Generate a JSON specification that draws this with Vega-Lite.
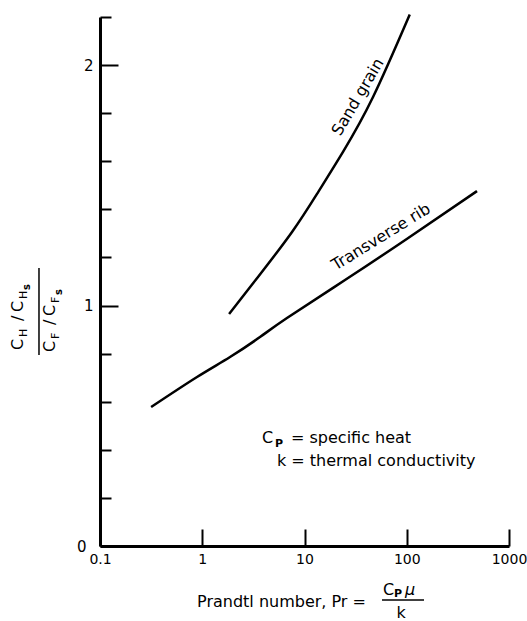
{
  "$schema": "https://vega.github.io/schema/vega-lite/v6.json",
  "autosize": "none",
  "padding": {"left": 100, "top": 17, "right": 18, "bottom": 75},
  "width": 409,
  "height": 529,
  "background": "white",
  "config": {
    "font": "DejaVu Sans",
    "view": {"stroke": null},
    "text": {"color": "black", "fontSize": 16}
  },
  "datasets": {
    "curves": [
      {"series": "Sand grain", "pr": 1.83, "ratio": 0.965},
      {"series": "Sand grain", "pr": 3.51, "ratio": 1.119},
      {"series": "Sand grain", "pr": 7.55, "ratio": 1.306},
      {"series": "Sand grain", "pr": 13.6, "ratio": 1.472},
      {"series": "Sand grain", "pr": 23.8, "ratio": 1.639},
      {"series": "Sand grain", "pr": 46.8, "ratio": 1.867},
      {"series": "Sand grain", "pr": 107, "ratio": 2.21},
      {"series": "Transverse rib", "pr": 0.316, "ratio": 0.578},
      {"series": "Transverse rib", "pr": 0.889, "ratio": 0.703},
      {"series": "Transverse rib", "pr": 1.87, "ratio": 0.786},
      {"series": "Transverse rib", "pr": 3.67, "ratio": 0.869},
      {"series": "Transverse rib", "pr": 6.74, "ratio": 0.948},
      {"series": "Transverse rib", "pr": 24.9, "ratio": 1.106},
      {"series": "Transverse rib", "pr": 100, "ratio": 1.277},
      {"series": "Transverse rib", "pr": 486, "ratio": 1.476}
    ]
  },
  "layer": [
    {
      "data": {"name": "curves"},
      "mark": {"type": "line", "color": "black", "strokeWidth": 2.5, "interpolate": "natural"},
      "encoding": {
        "x": {
          "field": "pr", "type": "quantitative",
          "scale": {"type": "log", "domain": [0.1, 1000]},
          "axis": {
            "values": [0.1, 1, 10, 100, 1000], "format": "~g", "title": null, "grid": false,
            "tickSize": -17, "tickWidth": 2, "tickColor": "black",
            "domainWidth": 3, "domainColor": "black",
            "labelFontSize": 14, "labelColor": "black", "labelFlush": false, "labelPadding": 23
          }
        },
        "y": {
          "field": "ratio", "type": "quantitative",
          "scale": {"domain": [0, 2.2], "nice": false},
          "axis": {
            "values": [0, 0.2, 0.4, 0.6, 0.8, 1, 1.2, 1.4, 1.6, 1.8, 2, 2.2],
            "format": "~g",
            "labelExpr": "(datum.value === 0 || datum.value === 1 || datum.value === 2) ? datum.label : ''",
            "title": null, "grid": false,
            "tickSize": {"condition": {"test": "datum.value === 1 || datum.value === 2", "value": -18}, "value": -11},
            "tickWidth": 2, "tickColor": "black",
            "domainWidth": 3, "domainColor": "black",
            "labelFontSize": 15, "labelColor": "black", "labelPadding": 25
          }
        },
        "detail": {"field": "series"}
      }
    },
    {
      "data": {"values": [{"t": "Sand grain"}]},
      "mark": {"type": "text", "angle": 300.5, "align": "center", "baseline": "middle"},
      "encoding": {"text": {"field": "t"}, "x": {"datum": 33.3, "type": "quantitative"}, "y": {"datum": 1.867, "type": "quantitative"}}
    },
    {
      "data": {"values": [{"t": "Transverse rib"}]},
      "mark": {"type": "text", "angle": 328.3, "align": "center", "baseline": "middle"},
      "encoding": {"text": {"field": "t"}, "x": {"datum": 56, "type": "quantitative"}, "y": {"datum": 1.285, "type": "quantitative"}}
    },
    {
      "data": {"values": [{"t": "C"}]},
      "mark": {"type": "text", "align": "left", "baseline": "alphabetic"},
      "encoding": {"text": {"field": "t"}, "x": {"datum": 3.84, "type": "quantitative"}, "y": {"datum": 0.428, "type": "quantitative"}}
    },
    {
      "data": {"values": [{"t": "P"}]},
      "mark": {"type": "text", "align": "left", "baseline": "alphabetic", "fontSize": 11, "fontWeight": "bold", "dy": 4},
      "encoding": {"text": {"field": "t"}, "x": {"datum": 5.15, "type": "quantitative"}, "y": {"datum": 0.428, "type": "quantitative"}}
    },
    {
      "data": {"values": [{"t": "= specific heat"}]},
      "mark": {"type": "text", "align": "left", "baseline": "alphabetic"},
      "encoding": {"text": {"field": "t"}, "x": {"datum": 7.38, "type": "quantitative"}, "y": {"datum": 0.428, "type": "quantitative"}}
    },
    {
      "data": {"values": [{"t": "k = thermal conductivity"}]},
      "mark": {"type": "text", "align": "left", "baseline": "alphabetic"},
      "encoding": {"text": {"field": "t"}, "x": {"datum": 5.38, "type": "quantitative"}, "y": {"datum": 0.333, "type": "quantitative"}}
    },
    {
      "data": {"values": [{"t": "Prandtl number, Pr ="}]},
      "mark": {"type": "text", "align": "left", "baseline": "alphabetic"},
      "encoding": {"text": {"field": "t"}, "x": {"datum": 0.889, "type": "quantitative"}, "y": {"datum": -0.254, "type": "quantitative"}}
    },
    {
      "data": {"values": [{"t": "C"}]},
      "mark": {"type": "text", "align": "left", "baseline": "alphabetic"},
      "encoding": {"text": {"field": "t"}, "x": {"datum": 58.6, "type": "quantitative"}, "y": {"datum": -0.204, "type": "quantitative"}}
    },
    {
      "data": {"values": [{"t": "P"}]},
      "mark": {"type": "text", "align": "left", "baseline": "alphabetic", "fontSize": 11, "fontWeight": "bold", "dy": 2},
      "encoding": {"text": {"field": "t"}, "x": {"datum": 75, "type": "quantitative"}, "y": {"datum": -0.204, "type": "quantitative"}}
    },
    {
      "data": {"values": [{"t": "μ"}]},
      "mark": {"type": "text", "align": "left", "baseline": "alphabetic", "fontStyle": "italic"},
      "encoding": {"text": {"field": "t"}, "x": {"datum": 96.1, "type": "quantitative"}, "y": {"datum": -0.204, "type": "quantitative"}}
    },
    {
      "data": {"values": [{}]},
      "mark": {"type": "rule", "color": "black", "strokeWidth": 1.5},
      "encoding": {"x": {"datum": 57.3, "type": "quantitative"}, "x2": {"datum": 147.5}, "y": {"datum": -0.2246, "type": "quantitative"}}
    },
    {
      "data": {"values": [{"t": "k"}]},
      "mark": {"type": "text", "align": "center", "baseline": "alphabetic"},
      "encoding": {"text": {"field": "t"}, "x": {"datum": 87.9, "type": "quantitative"}, "y": {"datum": -0.2994, "type": "quantitative"}}
    },
    {
      "data": {"values": [{"t": "C"}]},
      "mark": {"type": "text", "angle": 270, "align": "left", "baseline": "alphabetic", "fontSize": 16},
      "encoding": {"text": {"field": "t"}, "x": {"datum": 0.01766, "type": "quantitative"}, "y": {"datum": 0.815, "type": "quantitative"}}
    },
    {
      "data": {"values": [{"t": "H"}]},
      "mark": {"type": "text", "angle": 270, "align": "left", "baseline": "alphabetic", "fontSize": 11, "dx": 13, "dy": 4},
      "encoding": {"text": {"field": "t"}, "x": {"datum": 0.01766, "type": "quantitative"}, "y": {"datum": 0.815, "type": "quantitative"}}
    },
    {
      "data": {"values": [{"t": "/"}]},
      "mark": {"type": "text", "angle": 270, "align": "left", "baseline": "alphabetic", "fontSize": 16, "dx": 29},
      "encoding": {"text": {"field": "t"}, "x": {"datum": 0.01766, "type": "quantitative"}, "y": {"datum": 0.815, "type": "quantitative"}}
    },
    {
      "data": {"values": [{"t": "C"}]},
      "mark": {"type": "text", "angle": 270, "align": "left", "baseline": "alphabetic", "fontSize": 16, "dx": 38},
      "encoding": {"text": {"field": "t"}, "x": {"datum": 0.01766, "type": "quantitative"}, "y": {"datum": 0.815, "type": "quantitative"}}
    },
    {
      "data": {"values": [{"t": "H"}]},
      "mark": {"type": "text", "angle": 270, "align": "left", "baseline": "alphabetic", "fontSize": 11, "dx": 51, "dy": 4},
      "encoding": {"text": {"field": "t"}, "x": {"datum": 0.01766, "type": "quantitative"}, "y": {"datum": 0.815, "type": "quantitative"}}
    },
    {
      "data": {"values": [{"t": "s"}]},
      "mark": {"type": "text", "angle": 270, "align": "left", "baseline": "alphabetic", "fontSize": 10, "fontWeight": "bold", "dx": 60, "dy": 7},
      "encoding": {"text": {"field": "t"}, "x": {"datum": 0.01766, "type": "quantitative"}, "y": {"datum": 0.815, "type": "quantitative"}}
    },
    {
      "data": {"values": [{}]},
      "mark": {"type": "rule", "color": "black", "strokeWidth": 1.5},
      "encoding": {"x": {"datum": 0.02531, "type": "quantitative"}, "y": {"datum": 1.156, "type": "quantitative"}, "y2": {"datum": 0.794}}
    },
    {
      "data": {"values": [{"t": "C"}]},
      "mark": {"type": "text", "angle": 270, "align": "left", "baseline": "alphabetic", "fontSize": 16},
      "encoding": {"text": {"field": "t"}, "x": {"datum": 0.0365, "type": "quantitative"}, "y": {"datum": 0.807, "type": "quantitative"}}
    },
    {
      "data": {"values": [{"t": "F"}]},
      "mark": {"type": "text", "angle": 270, "align": "left", "baseline": "alphabetic", "fontSize": 11, "dx": 13, "dy": 4},
      "encoding": {"text": {"field": "t"}, "x": {"datum": 0.0365, "type": "quantitative"}, "y": {"datum": 0.807, "type": "quantitative"}}
    },
    {
      "data": {"values": [{"t": "/"}]},
      "mark": {"type": "text", "angle": 270, "align": "left", "baseline": "alphabetic", "fontSize": 16, "dx": 27},
      "encoding": {"text": {"field": "t"}, "x": {"datum": 0.0365, "type": "quantitative"}, "y": {"datum": 0.807, "type": "quantitative"}}
    },
    {
      "data": {"values": [{"t": "C"}]},
      "mark": {"type": "text", "angle": 270, "align": "left", "baseline": "alphabetic", "fontSize": 16, "dx": 36},
      "encoding": {"text": {"field": "t"}, "x": {"datum": 0.0365, "type": "quantitative"}, "y": {"datum": 0.807, "type": "quantitative"}}
    },
    {
      "data": {"values": [{"t": "F"}]},
      "mark": {"type": "text", "angle": 270, "align": "left", "baseline": "alphabetic", "fontSize": 11, "dx": 49, "dy": 4},
      "encoding": {"text": {"field": "t"}, "x": {"datum": 0.0365, "type": "quantitative"}, "y": {"datum": 0.807, "type": "quantitative"}}
    },
    {
      "data": {"values": [{"t": "s"}]},
      "mark": {"type": "text", "angle": 270, "align": "left", "baseline": "alphabetic", "fontSize": 10, "fontWeight": "bold", "dx": 57, "dy": 7},
      "encoding": {"text": {"field": "t"}, "x": {"datum": 0.0365, "type": "quantitative"}, "y": {"datum": 0.807, "type": "quantitative"}}
    }
  ]
}
